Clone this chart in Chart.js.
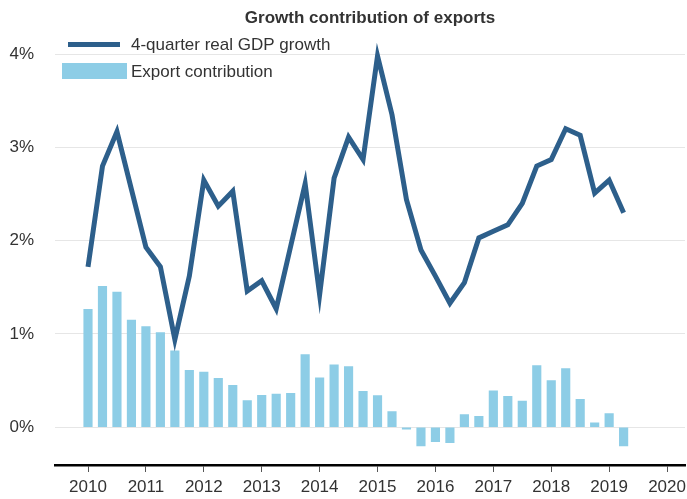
<!DOCTYPE html>
<html>
<head>
<meta charset="utf-8">
<script src="https://cdn.jsdelivr.net/npm/chart.js@4"></script>
<style>
html,body{margin:0;padding:0;background:#fff;}
#wrap{width:687px;height:499px;position:relative;}
</style>
</head>
<body>
<div id="wrap"><canvas id="c" width="687" height="499"></canvas></div>
<script>
const quarters = [
 '2010Q1','2010Q2','2010Q3','2010Q4','2011Q1','2011Q2','2011Q3','2011Q4',
 '2012Q1','2012Q2','2012Q3','2012Q4','2013Q1','2013Q2','2013Q3','2013Q4',
 '2014Q1','2014Q2','2014Q3','2014Q4','2015Q1','2015Q2','2015Q3','2015Q4',
 '2016Q1','2016Q2','2016Q3','2016Q4','2017Q1','2017Q2','2017Q3','2017Q4',
 '2018Q1','2018Q2','2018Q3','2018Q4','2019Q1','2019Q2'
];
const gdpGrowth = [
 1.72,2.80,3.17,2.55,1.93,1.72,0.94,1.62,
 2.65,2.37,2.53,1.46,1.57,1.27,1.94,2.61,
 1.42,2.67,3.11,2.87,3.98,3.35,2.44,1.90,
 1.62,1.33,1.55,2.03,2.10,2.17,2.40,2.80,
 2.87,3.20,3.13,2.51,2.65,2.30
];
const exportContribution = [
 1.265,1.51,1.45,1.15,1.08,1.015,0.82,0.61,
 0.59,0.525,0.45,0.285,0.343,0.354,0.364,0.78,
 0.53,0.67,0.65,0.386,0.34,0.168,-0.02,-0.20,
 -0.155,-0.165,0.136,0.118,0.39,0.33,0.28,0.66,
 0.50,0.63,0.30,0.047,0.147,-0.20
];
const yearTicks = [2010,2011,2012,2013,2014,2015,2016,2017,2018,2019,2020];
const percentTicks = [0,1,2,3,4];
const seriesNames = ['4-quarter real GDP growth','Export contribution'];
const titleText = 'Growth contribution of exports';

const qx = q => parseInt(q.slice(0,4),10) + (parseInt(q.slice(5),10)-1)/4;
const lineColor = '#2d5f8b';
const barColor = '#8dcde6';
const textColor = '#333333';
const FONT = "'Liberation Sans', Arial, sans-serif";

const legendPlugin = {
  id: 'customLegend',
  afterDraw(chart) {
    const ctx = chart.ctx;
    ctx.save();
    ctx.font = '17px ' + FONT;
    ctx.textBaseline = 'middle';
    ctx.textAlign = 'left';
    ctx.fillStyle = lineColor;
    ctx.fillRect(68, 42, 52, 5);
    ctx.fillStyle = textColor;
    ctx.fillText(seriesNames[0], 131, 45);
    ctx.fillStyle = barColor;
    ctx.fillRect(62, 63, 65, 16);
    ctx.fillStyle = textColor;
    ctx.fillText(seriesNames[1], 131, 72);
    ctx.restore();
  }
};

new Chart(document.getElementById('c'), {
  type: 'bar',
  data: {
    datasets: [
      {
        type: 'line',
        label: seriesNames[0],
        data: quarters.map((q,i)=>({x: qx(q), y: gdpGrowth[i]})),
        borderColor: lineColor,
        backgroundColor: lineColor,
        borderWidth: 5,
        pointRadius: 0,
        tension: 0,
        borderJoinStyle: 'miter',
        order: 0
      },
      {
        type: 'bar',
        label: seriesNames[1],
        data: quarters.map((q,i)=>({x: qx(q), y: exportContribution[i]})),
        backgroundColor: barColor,
        borderWidth: 0,
        barThickness: 8.5,
        order: 1
      }
    ]
  },
  options: {
    responsive: false,
    animation: false,
    devicePixelRatio: 1,
    layout: { padding: { left: 9, right: 2, top: 0, bottom: 0 } },
    plugins: {
      legend: { display: false },
      tooltip: { enabled: false },
      title: {
        display: true,
        text: titleText,
        fullSize: false,
        color: textColor,
        font: { family: FONT, size: 17, weight: 'bold' },
        padding: { top: 8, bottom: 8 }
      }
    },
    scales: {
      x: {
        type: 'linear',
        offset: false,
        min: 2009.43,
        max: 2020.31,
        afterBuildTicks: s => { s.ticks = yearTicks.map(v=>({value:v})); },
        afterFit: s => { s.height = 34; s.paddingRight = 0; },
        ticks: {
          color: textColor,
          font: { family: FONT, size: 17 },
          padding: 5,
          maxRotation: 0,
          autoSkip: false,
          callback: v => String(v)
        },
        grid: { offset: false, drawOnChartArea: false, drawTicks: true, tickLength: 7, color: '#555555', lineWidth: 1 },
        border: { display: true, color: '#000000', width: 2.5 }
      },
      y: {
        type: 'linear',
        min: -0.405,
        max: 4.19,
        afterBuildTicks: s => { s.ticks = percentTicks.map(v=>({value:v})); },
        afterFit: s => { s.width = 46; },
        ticks: {
          color: textColor,
          font: { family: FONT, size: 17 },
          padding: 21,
          callback: v => v + '%'
        },
        grid: { color: '#e6e6e6', lineWidth: 1, drawTicks: false },
        border: { display: false }
      }
    }
  },
  plugins: [legendPlugin]
});
</script>
</body>
</html>
